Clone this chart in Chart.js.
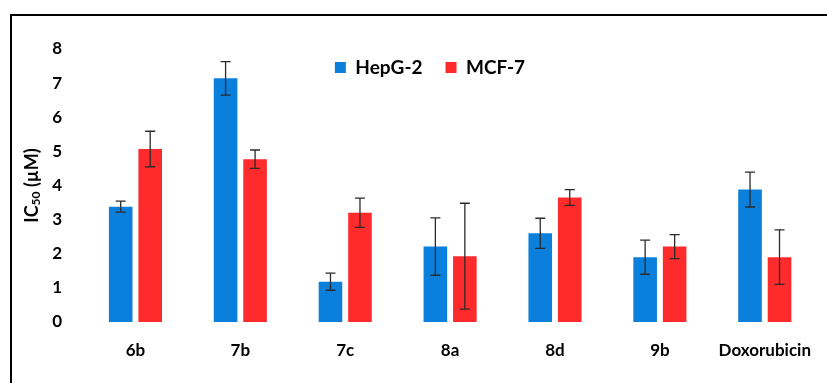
<!DOCTYPE html>
<html>
<head>
<meta charset="utf-8">
<script src="https://cdn.jsdelivr.net/npm/chart.js@4.4.0/dist/chart.umd.min.js"></script>
<style>
    html, body { margin: 0; padding: 0; background: #fff; overflow: hidden; }
    #wrap { position: relative; width: 827px; height: 383px; overflow: hidden; background: #fff; }
    #icChart { position: absolute; left: 0; top: 0; }
    #frame { position: absolute; left: 10px; top: 14px; right: 0; bottom: 0; border-top: 2px solid #000; border-left: 2px solid #000; }
</style>
</head>
<body>
<div id="wrap">
    <canvas id="icChart" width="829" height="383"></canvas>
    <div id="frame"></div>
</div>
<script>
// Данные IC50 (мкМ) для двух клеточных линий
const compounds = ['6b', '7b', '7c', '8a', '8d', '9b', 'Doxorubicin'];
const hepg2 = [3.38, 7.14, 1.18, 2.21, 2.60, 1.90, 3.88];
const hepg2Err = [0.16, 0.49, 0.25, 0.84, 0.44, 0.50, 0.51];
const mcf7 = [5.07, 4.77, 3.20, 1.93, 3.65, 2.21, 1.90];
const mcf7Err = [0.52, 0.27, 0.43, 1.55, 0.23, 0.35, 0.80];
const yMin = 0;
const yMax = 8;
const yStep = 1;

const FONT = 'Lato, "Liberation Sans", sans-serif';

// Планки погрешностей поверх столбцов
const errorBarsPlugin = {
    id: 'errorBars',
    afterDatasetsDraw(chart) {
        const ctx = chart.ctx;
        const yScale = chart.scales.y;
        ctx.save();
        ctx.strokeStyle = '#2b2b2b';
        ctx.lineWidth = 1.3;
        chart.data.datasets.forEach((ds, di) => {
            const meta = chart.getDatasetMeta(di);
            meta.data.forEach((bar, i) => {
                const v = ds.data[i];
                const e = ds.errors[i];
                const yTop = yScale.getPixelForValue(v + e);
                const yBot = yScale.getPixelForValue(v - e);
                const cap = 5;
                ctx.beginPath();
                ctx.moveTo(bar.x, yTop);
                ctx.lineTo(bar.x, yBot);
                ctx.moveTo(bar.x - cap, yTop);
                ctx.lineTo(bar.x + cap, yTop);
                ctx.moveTo(bar.x - cap, yBot);
                ctx.lineTo(bar.x + cap, yBot);
                ctx.stroke();
            });
        });
        ctx.restore();
    }
};

// Подпись оси Y с нижним индексом
const yTitlePlugin = {
    id: 'yTitle',
    afterDraw(chart) {
        const ctx = chart.ctx;
        const area = chart.chartArea;
        const big = 'bold 18px ' + FONT;
        const small = 'bold 12px ' + FONT;
        ctx.save();
        ctx.fillStyle = '#000';
        ctx.textBaseline = 'middle';
        ctx.textAlign = 'left';
        ctx.font = big;
        const w1 = ctx.measureText('IC').width;
        const w3 = ctx.measureText(' (µM)').width;
        ctx.font = small;
        const w2 = ctx.measureText('50').width;
        const total = w1 + w2 + w3;
        ctx.translate(32, (area.top + area.bottom) / 2);
        ctx.rotate(-Math.PI / 2);
        let x = -total / 2;
        ctx.font = big;
        ctx.fillText('IC', x, 0);
        x += w1;
        ctx.font = small;
        ctx.fillText('50', x, 4);
        x += w2;
        ctx.font = big;
        ctx.fillText(' (µM)', x, 0);
        ctx.restore();
    }
};

// Легенда внутри области графика, но в одну строку
const legendShiftPlugin = {
    id: 'legendShift',
    beforeLayout(chart) {
        if (chart.legend) chart.legend.isHorizontal = () => true;
    },
    afterUpdate(chart) {
        const lg = chart.legend;
        if (!lg) return;
        lg.left = 128;
        lg.right = 732;
        lg.top = chart.chartArea.top - 14;
    }
};

const ctx = document.getElementById('icChart').getContext('2d');
const icChart = new Chart(ctx, {
    type: 'bar',
    data: {
        labels: compounds,
        datasets: [{
            label: 'HepG-2',
            data: hepg2,
            errors: hepg2Err,
            backgroundColor: '#0a7fdb',
            borderWidth: 0,
            categoryPercentage: 0.5625,
            barPercentage: 0.8
        }, {
            label: 'MCF-7',
            data: mcf7,
            errors: mcf7Err,
            backgroundColor: '#fd2b2b',
            borderWidth: 0,
            categoryPercentage: 0.5625,
            barPercentage: 0.8
        }]
    },
    options: {
        responsive: false,
        animation: false,
        layout: { padding: { top: 49, left: 0, right: 0, bottom: 0 } },
        scales: {
            x: {
                grid: { display: false, drawTicks: false },
                border: { display: false },
                ticks: {
                    color: '#000',
                    padding: 18,
                    font: { family: FONT, size: 17, weight: 'bold' }
                },
                afterFit(scale) { scale.height = 61; }
            },
            y: {
                min: yMin,
                max: yMax,
                grid: { display: false, drawTicks: false },
                border: { display: false },
                ticks: {
                    stepSize: yStep,
                    color: '#000',
                    padding: 21,
                    font: { family: FONT, size: 17, weight: 'bold' }
                },
                afterFit(scale) { scale.width = 83; }
            }
        },
        plugins: {
            legend: {
                position: 'chartArea',
                align: 'center',
                labels: {
                    boxWidth: 11,
                    boxHeight: 11,
                    padding: 23,
                    color: '#000',
                    font: { family: FONT, size: 19, weight: 'bold' }
                }
            },
            tooltip: { enabled: false }
        }
    },
    plugins: [errorBarsPlugin, yTitlePlugin, legendShiftPlugin]
});
</script>
</body>
</html>
